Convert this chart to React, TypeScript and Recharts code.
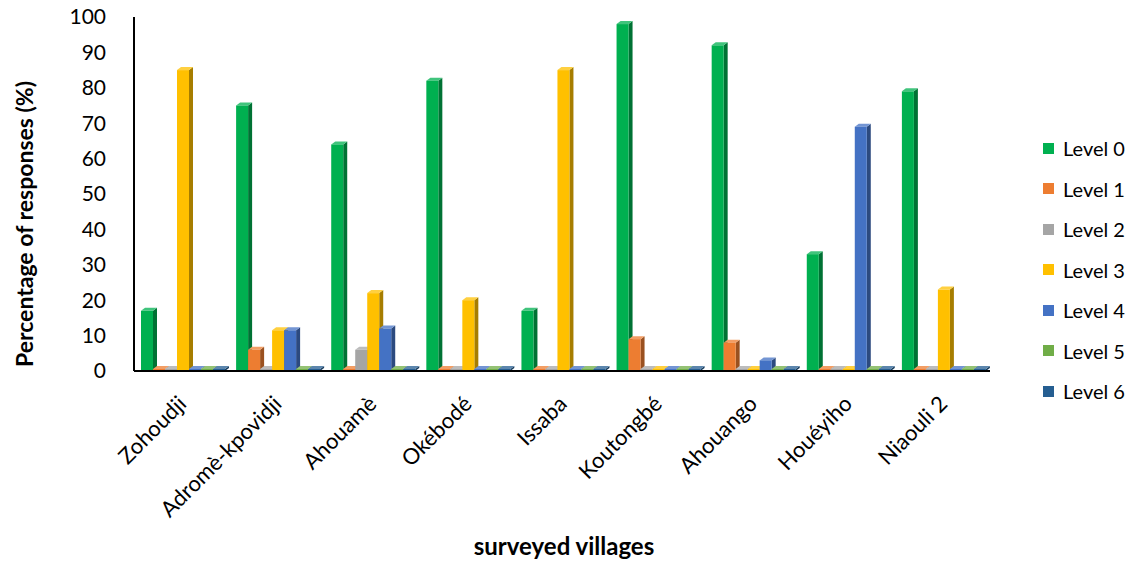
import { BarChart, Bar, XAxis, YAxis } from "recharts";

const villages = [
  "Zohoudji",
  "Adromè-kpovidji",
  "Ahouamè",
  "Okébodé",
  "Issaba",
  "Koutongbé",
  "Ahouango",
  "Houéyiho",
  "Niaouli 2",
];

const levels = ["Level 0", "Level 1", "Level 2", "Level 3", "Level 4", "Level 5", "Level 6"];
const colors = ["#00B050", "#ED7D31", "#A5A5A5", "#FFC000", "#4472C4", "#70AD47", "#255E91"];

const level0 = [17, 75, 64, 82, 17, 98, 92, 33, 79];
const level1 = [0, 6, 0, 0, 0, 9, 8, 0, 0];
const level2 = [0, 0, 6, 0, 0, 0, 0, 0, 0];
const level3 = [85, 11.5, 22, 20, 85, 0, 0, 0, 23];
const level4 = [0, 11.5, 12, 0, 0, 0, 3, 69, 0];
const level5 = [0, 0, 0, 0, 0, 0, 0, 0, 0];
const level6 = [0, 0, 0, 0, 0, 0, 0, 0, 0];

const series = [level0, level1, level2, level3, level4, level5, level6];
const yTicks = [0, 10, 20, 30, 40, 50, 60, 70, 80, 90, 100];

const data = villages.map((name, i) => {
  const row: Record<string, number | string> = { name };
  levels.forEach((lv, k) => {
    row[lv] = series[k][i];
  });
  return row;
});

function shade(hex: string, f: number) {
  const n = parseInt(hex.slice(1), 16);
  const ch = [(n >> 16) & 255, (n >> 8) & 255, n & 255].map((c) =>
    f < 0 ? Math.round(c * (1 + f)) : Math.round(c + (255 - c) * f)
  );
  return `rgb(${ch[0]},${ch[1]},${ch[2]})`;
}

// flat 3d look: front face, darker right side, lighter top
const Bar3D = (props: any) => {
  const { x, y, width, height, fill } = props;
  if (width == null || height == null) return null;
  const d = 4;
  const dz = 3;
  const w = width;
  return (
    <g>
      <polygon
        points={`${x + w},${y} ${x + w + d},${y - dz} ${x + w + d},${y + height - dz} ${x + w},${y + height}`}
        fill={shade(fill, -0.35)}
      />
      <polygon
        points={`${x},${y} ${x + d},${y - dz} ${x + w + d},${y - dz} ${x + w},${y}`}
        fill={shade(fill, 0.25)}
      />
      <rect x={x} y={y} width={w} height={height} fill={fill} />
    </g>
  );
};

const XTick = (props: any) => {
  const { x, y, payload } = props;
  return (
    <g transform={`translate(${x + 2},${y + 22})`}>
      <text
        x={0}
        y={0}
        dy={6}
        textAnchor="end"
        transform="rotate(-45)"
        fill="#000"
        fontSize={22}
        fontFamily="Lato"
      >
        {payload.value}
      </text>
    </g>
  );
};

export default function App() {
  return (
    <div
      style={{
        position: "absolute",
        left: 0,
        top: 0,
        width: 1138,
        height: 562,
        background: "#fff",
        fontFamily: "Lato",
      }}
    >
      <BarChart
        width={1138}
        height={562}
        data={data}
        margin={{ top: 17, right: 148, bottom: 0, left: 0 }}
        barCategoryGap={7}
        barGap={0}
      >
        <XAxis
          dataKey="name"
          interval={0}
          height={191}
          tickLine={false}
          axisLine={{ stroke: "#000", strokeWidth: 2 }}
          tick={<XTick />}
        />
        <YAxis
          width={134}
          domain={[0, 100]}
          ticks={yTicks}
          interval={0}
          tickLine={false}
          axisLine={{ stroke: "#000", strokeWidth: 2 }}
          tick={{ fill: "#000", fontSize: 21, fontFamily: "Lato" }}
          tickMargin={22}
        />
        {levels.map((lv, k) => (
          <Bar
            key={lv}
            dataKey={lv}
            fill={colors[k]}
            minPointSize={2}
            shape={<Bar3D />}
            isAnimationActive={false}
          />
        ))}
      </BarChart>

      {/* legend */}
      <div style={{ position: "absolute", left: 1043, top: 128, fontSize: 20, color: "#000" }}>
        {levels.map((lv, k) => (
          <div key={lv} style={{ display: "flex", alignItems: "center", height: 40.5 }}>
            <span
              style={{ width: 11, height: 11, background: colors[k], display: "inline-block", marginRight: 9 }}
            />
            <span>{lv}</span>
          </div>
        ))}
      </div>

      <svg
        width={1138}
        height={562}
        style={{ position: "absolute", left: 0, top: 0, pointerEvents: "none" }}
      >
        <text
          transform="translate(33,224) rotate(-90)"
          textAnchor="middle"
          fontFamily="Lato"
          fontWeight="bold"
          fontSize={23}
          fill="#000"
        >
          Percentage of responses (%)
        </text>
        <text x={564} y={555} textAnchor="middle" fontFamily="Lato" fontWeight="bold" fontSize={24} fill="#000">
          surveyed villages
        </text>
      </svg>
    </div>
  );
}
